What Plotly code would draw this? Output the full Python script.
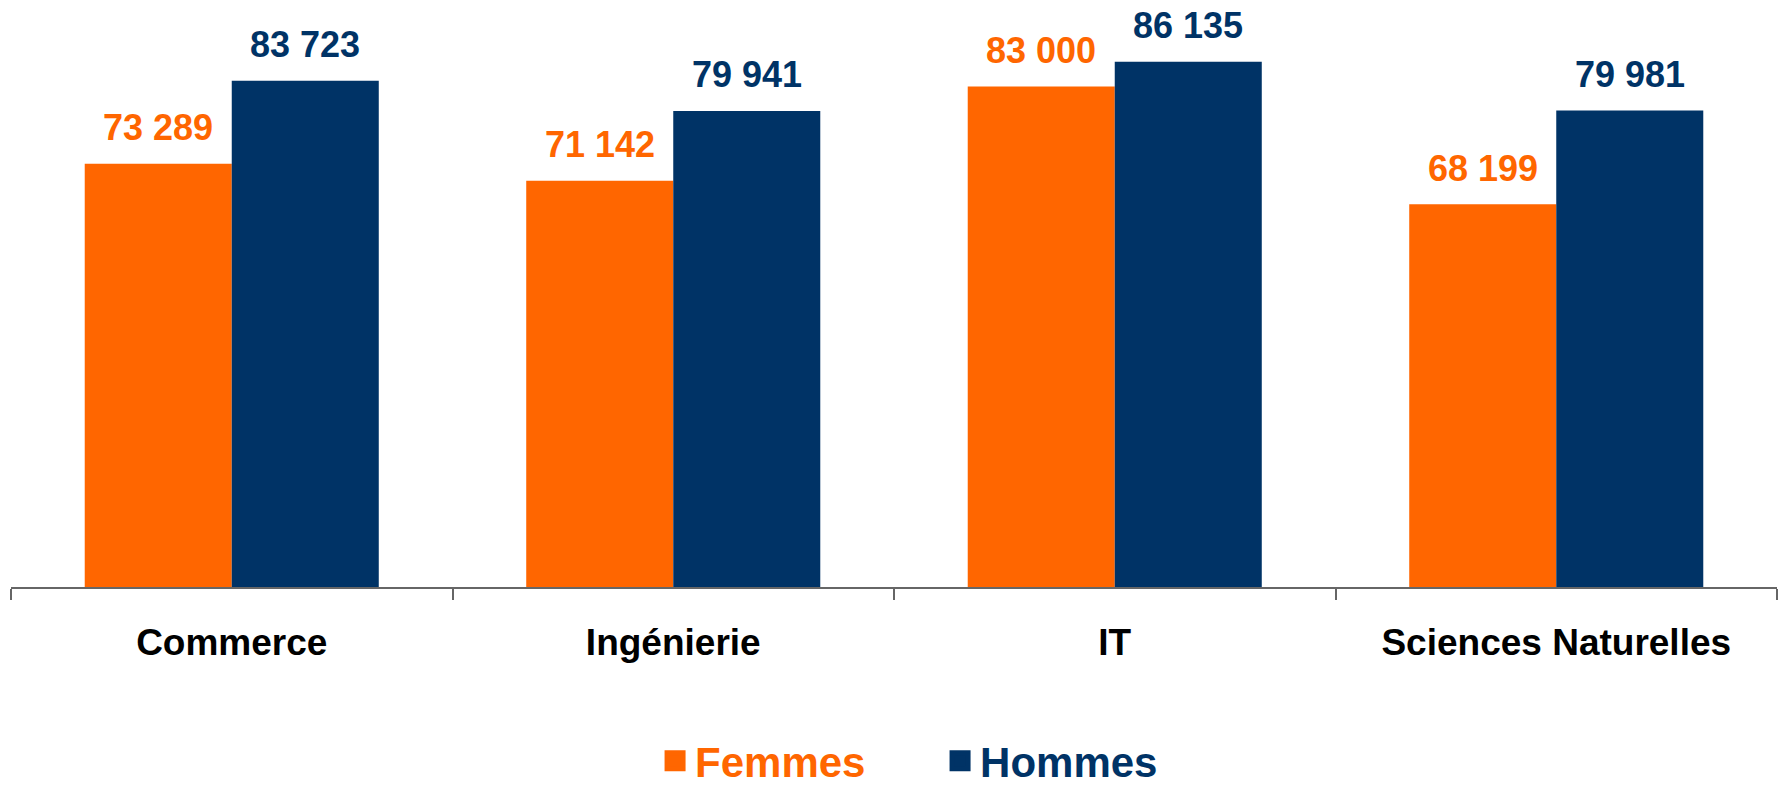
import plotly.graph_objects as go

categories = ["Commerce", "Ingénierie", "IT", "Sciences Naturelles"]
femmes = [73289, 71142, 83000, 68199]
hommes = [83723, 79941, 86135, 79981]
series_names = ["Femmes", "Hommes"]
colors = ["#FF6600", "#003366"]

FONT = "Liberation Sans, Arial, sans-serif"

fig = go.Figure()
for name, vals, col in zip(series_names, [femmes, hommes], colors):
    fig.add_trace(go.Bar(x=categories, y=vals, name=name, marker=dict(color=col, line=dict(width=0)),
                         showlegend=False, hoverinfo="x+y"))
    # legend proxy
    fig.add_trace(go.Scatter(x=[None], y=[None], mode="markers", name=f"<span style='color:{col}'>{name}</span>",
                             marker=dict(symbol="square", size=16, color=col, line=dict(color=col, width=5)),
                             showlegend=True))

def fmt(v):
    return f"{v:,}".replace(",", " ")

annotations = []
for vals, col, shift in zip([femmes, hommes], colors, [-73.5, 73.5]):
    for c, v in zip(categories, vals):
        annotations.append(dict(x=c, y=v, text=fmt(v), showarrow=False, xshift=shift, yshift=36,
                                yanchor="middle", xanchor="center",
                                font=dict(family=FONT, size=36, color=col, weight="bold")))

fig.update_layout(
    width=1783, height=786, autosize=False,
    margin=dict(l=11, r=6, t=31, b=199, pad=0, autoexpand=False),
    plot_bgcolor="white", paper_bgcolor="white",
    barmode="group", bargap=0.334, bargroupgap=0,
    annotations=annotations,
    showlegend=True,
    legend=dict(orientation="h", x=0.3647, xanchor="left", y=-0.313, yanchor="middle",
                font=dict(family=FONT, size=42, weight="bold"), entrywidth=240, itemclick=False),
    xaxis=dict(showline=True, linecolor="#666666", linewidth=1.5, ticks="outside", tickson="boundaries",
               ticklen=11, tickcolor="#666666", tickwidth=1.5,
               tickfont=dict(family=FONT, size=37, color="black", weight="bold"),
               ticklabelstandoff=22, showgrid=False, automargin=False),
    yaxis=dict(range=[20000, 90000], visible=False, showgrid=False, zeroline=False),
)

fig.write_html("out.html",
               config={"responsive": False, "displayModeBar": False},
               post_script="document.body.style.margin='0';document.body.style.overflow='hidden';")
